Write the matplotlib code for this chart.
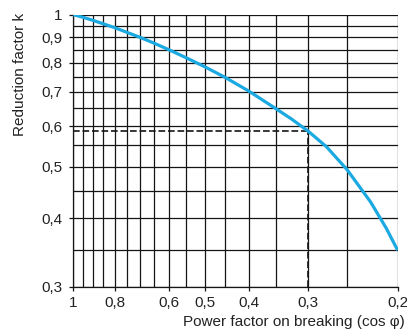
import numpy as np
import matplotlib
matplotlib.use("Agg")
import matplotlib.pyplot as plt
from matplotlib.ticker import FixedLocator, FixedFormatter

plt.rcParams['font.family'] = ['Liberation Sans', 'DejaVu Sans']

# Data
cos_phi = [1.0, 0.95, 0.9, 0.85, 0.8, 0.75, 0.7, 0.65, 0.6, 0.55, 0.5, 0.45,
           0.4, 0.35, 0.325, 0.3, 0.275, 0.25, 0.225, 0.21, 0.2]
k_factor = [1.0, 0.988, 0.974, 0.958, 0.941, 0.921, 0.9, 0.876, 0.849, 0.819,
            0.786, 0.748, 0.703, 0.649, 0.62, 0.587, 0.547, 0.494, 0.429,
            0.383, 0.349]

x_ticks = [1.0, 0.8, 0.6, 0.5, 0.4, 0.3, 0.2]
x_ticklabels = ["1", "0,8", "0,6", "0,5", "0,4", "0,3", "0,2"]
y_ticks = [1.0, 0.9, 0.8, 0.7, 0.6, 0.5, 0.4, 0.3]
y_ticklabels = ["1", "0,9", "0,8", "0,7", "0,6", "0,5", "0,4", "0,3"]
x_grid = [round(v, 2) for v in np.arange(0.2, 1.0001, 0.05)]
y_grid = [round(v, 2) for v in np.arange(0.3, 1.0001, 0.05)]

marked_x = 0.3
marked_k = 0.587

OFFSET = 0.05
def fwd(v):
    return np.log(np.clip(np.asarray(v, dtype=float) - OFFSET, 1e-6, None))
def inv(v):
    return np.exp(v) + OFFSET

fig = plt.figure(figsize=(4.07, 3.33), dpi=100)
ax = fig.add_axes([0.180, 0.139, 0.797, 0.817])
ax.set_xscale('function', functions=(fwd, inv))
ax.set_yscale('function', functions=(fwd, inv))
ax.set_xlim(1.0, 0.2)
ax.set_ylim(0.3, 1.0)

for gx in x_grid:
    ax.axvline(gx, color='#151515', lw=0.9, zorder=1)
for gy in y_grid:
    ax.axhline(gy, color='#151515', lw=0.9, zorder=1)

ax.plot([1.0, marked_x], [marked_k, marked_k], color='#151515', lw=1.2,
        dashes=(4, 1.7), zorder=2)
ax.plot([marked_x, marked_x], [0.3, marked_k], color='#151515', lw=1.2,
        dashes=(4, 1.7), zorder=2)
ax.plot(cos_phi, k_factor, color='#1AA9E1', lw=2.3, zorder=3,
        solid_capstyle='butt', solid_joinstyle='round')

ax.xaxis.set_major_locator(FixedLocator(x_ticks))
ax.xaxis.set_major_formatter(FixedFormatter(x_ticklabels))
ax.yaxis.set_major_locator(FixedLocator(y_ticks))
ax.yaxis.set_major_formatter(FixedFormatter(y_ticklabels))
ax.xaxis.set_minor_locator(FixedLocator([]))
ax.yaxis.set_minor_locator(FixedLocator([]))
ax.tick_params(axis='both', direction='out', length=3, width=0.9,
               color='#151515', labelsize=11, labelcolor='#222222')
ax.tick_params(axis='x', pad=3.6)
ax.tick_params(axis='y', pad=5)

for side in ['top', 'right']:
    ax.spines[side].set_visible(False)
for side in ['left', 'bottom']:
    ax.spines[side].set_linewidth(0.9)
    ax.spines[side].set_color('#151515')

ax.set_xlabel("Power factor on breaking (cos φ)", fontsize=11,
              color='#222222')
ax.xaxis.set_label_coords(1.0225, -0.146)
ax.xaxis.label.set_horizontalalignment('right')
ax.xaxis.label.set_verticalalignment('baseline')
ax.set_ylabel("Reduction factor k", fontsize=11, color='#222222')
ax.yaxis.set_label_coords(-0.186, 1.006)
ax.yaxis.label.set_verticalalignment('top')
ax.yaxis.label.set_horizontalalignment('right')

fig.savefig("out.png", dpi=100)
